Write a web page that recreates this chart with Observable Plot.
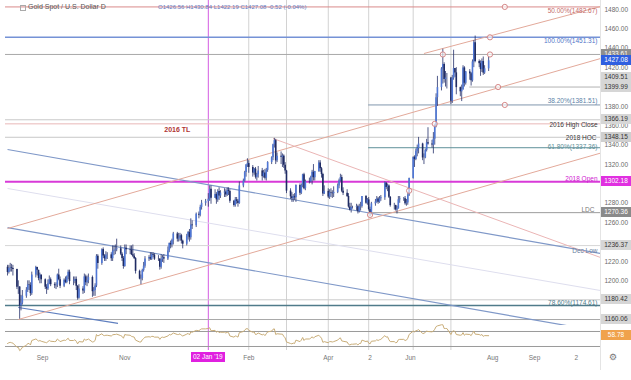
<!DOCTYPE html>
<html><head><meta charset="utf-8">
<script src="https://cdn.jsdelivr.net/npm/d3@7"></script>
<script src="https://cdn.jsdelivr.net/npm/@observablehq/plot@0.6"></script>
<style>
html,body{margin:0;padding:0;background:#fff;}
#wrap{position:relative;width:631px;height:380px;overflow:hidden;font-family:"Liberation Sans",Arial,sans-serif;}
#wrap svg{position:absolute;left:0;}
.tag{position:absolute;left:601px;width:30px;height:10px;line-height:10px;font-size:6.5px;text-align:center;}
.abs{position:absolute;white-space:nowrap;}
</style></head>
<body><div id="wrap"></div>
<script>
// ---------------- data ----------------
const title = "Gold Spot / U.S. Dollar  D";
const ohlcText = "O1426.56 H1430.84 L1422.19 C1427.08 -0.52 (-0.04%)";
const firstDay = "2018-08-06", lastDay = "2019-07-29";
const holidays = ["2018-12-25", "2019-01-01"];
const firstOpen = 1214.0;
const closes = [
1208.6,1212.8,1213.5,1212.8,1211.6, 1193.5,1193.6,1174.1,1176.9,1184.1, 1190.4,1195.8,1195.3,1186.8,1206.0, 1213.8,1210.8,1202.3,1205.9,1201.1,
1193.4,1191.6,1197.1,1201.1,1196.0, 1194.9,1195.5,1206.0,1201.1,1194.3, 1200.6,1198.3,1203.9,1208.9,1199.2, 1199.6,1201.5,1194.4,1182.0,1191.6,
1189.4,1204.1,1198.0,1200.2,1203.4, 1188.8,1189.9,1194.7,1225.3,1218.0, 1232.2,1225.6,1222.6,1226.7,1226.8, 1222.8,1230.5,1231.6,1232.1,1233.1,
1227.5,1223.1,1214.8,1233.6,1232.2, 1231.5,1226.8,1225.4,1222.9,1209.8, 1201.8,1202.4,1210.8,1215.1,1222.5, 1224.0,1222.3,1227.2,1226.5,1222.3,
1222.2,1213.9,1221.8,1223.8,1222.5, 1230.8,1238.6,1237.0,1241.5,1248.4, 1243.0,1244.0,1246.6,1241.0,1237.8, 1246.0,1249.8,1244.5,1257.7,1256.9,
1268.6,1267.6,1275.8,1280.0, 1281.7,1284.2,1294.5,1285.2,
1289.2,1283.6,1292.1,1287.5,1290.6, 1291.6,1288.6,1293.5,1292.2,1282.0, 1277.8,1283.6,1282.0,1279.7,1297.9, 1302.9,1311.8,1319.5,1321.0,1317.0,
1311.2,1315.3,1306.9,1309.4,1313.4, 1307.5,1311.2,1305.8,1314.0,1322.1, 1327.0,1340.4,1344.7,1323.8,1328.5, 1327.5,1328.7,1319.3,1313.3,1292.6,
1286.7,1284.6,1286.8,1285.7,1298.3, 1290.4,1298.1,1309.4,1295.1,1302.3, 1302.0,1306.6,1312.0,1306.4,1312.8, 1321.6,1315.6,1309.7,1289.6,1292.3,
1286.5,1290.8,1290.5,1289.9,1291.3, 1297.9,1303.2,1306.6,1292.5,1290.4, 1287.0,1276.2,1272.9,1275.6,1275.7, 1276.5,1271.3,1276.2,1276.8,1286.9,
1280.1,1283.5,1273.6,1270.6,1279.4, 1281.3,1284.4,1281.0,1284.6,1285.8, 1300.9,1296.3,1297.8,1286.2,1277.6, 1277.7,1273.2,1274.3,1283.6,1284.6,
1284.8,1279.6,1280.4,1288.2,1305.6, 1327.4,1325.1,1333.6,1336.6,1341.2, 1326.8,1326.8,1334.6,1342.4,1341.2, 1340.1,1346.2,1360.3,1389.0,1399.4,
1418.6,1423.2,1407.8,1409.3,1409.2, 1385.2,1409.0,1419.0,1414.6,1399.4, 1395.1,1397.0,1419.7,1403.9,1415.6, 1413.6,1406.4,1425.9,1445.6,1426.4,
1424.1,1418.0,1426.3,1414.4,1418.8, 1427.1];
const highs = [
1216,1216,1218,1217,1216, 1212,1200,1194,1185,1190, 1193,1200,1200,1198,1209, 1215,1214,1211,1208,1206,
1202,1196,1201,1205,1203, 1198,1198,1207,1212,1204, 1202,1204,1205,1211,1211, 1204,1204,1204,1195,1196,
1194,1207,1206,1205,1207, 1205,1193,1197,1227,1227, 1233,1234,1227,1230,1229, 1229,1236,1236,1237,1243,
1236,1229,1225,1237,1237, 1236,1236,1237,1228,1224, 1211,1206,1212,1219,1225, 1226,1229,1229,1229,1228,
1226,1223,1227,1226,1227, 1235,1239,1241,1243,1250, 1250,1249,1249,1248,1242, 1248,1251,1253,1264,1262,
1270,1271,1278,1283, 1284,1290,1298,1298,
1294,1291,1294,1296,1293, 1295,1294,1296,1296,1294, 1283,1286,1286,1284,1302, 1305,1313,1320,1326,1324,
1319,1316,1317,1311,1318, 1316,1314,1315,1316,1323, 1328,1341,1347,1346,1332, 1333,1331,1330,1322,1314,
1295,1291,1289,1290,1299, 1300,1300,1310,1311,1304, 1306,1308,1314,1320,1313, 1324,1324,1317,1311,1298,
1295,1294,1295,1293,1297, 1300,1305,1310,1309,1296, 1294,1290,1280,1280,1277, 1279,1278,1279,1281,1287,
1288,1285,1286,1276,1281, 1284,1287,1286,1287,1288, 1302,1301,1300,1299,1287, 1280,1278,1277,1287,1287,
1286,1287,1284,1290,1306, 1328,1329,1336,1340,1348, 1342,1331,1336,1346,1358, 1345,1353,1361,1393,1411,
1420,1439,1425,1416,1414, 1410,1412,1438,1419,1420, 1400,1402,1422,1421,1416, 1418,1415,1428,1448,1452.6,
1428,1427,1429,1431,1422, 1430.8];
const lows = [
1205,1207,1209,1209,1205, 1191,1186,1160.4,1169,1175, 1182,1188,1190,1184,1185, 1203,1205,1200,1197,1197,
1191,1186,1190,1196,1194, 1192,1191,1193,1200,1192, 1193,1197,1197,1201,1196, 1195,1197,1190,1180,1181,
1186,1187,1195,1194,1197, 1183,1184,1184,1193,1212, 1216,1223,1220,1220,1222, 1220,1220,1226,1227,1230,
1226,1220,1212,1214,1227, 1227,1226,1224,1222,1207, 1201,1196,1200,1209,1213, 1220,1221,1221,1224,1221,
1220,1211,1212,1219,1218, 1221,1229,1233,1234,1237, 1240,1240,1241,1238,1233, 1236,1242,1240,1242,1253,
1255,1264,1266,1273, 1277,1276,1282,1279,
1285,1279,1281,1283,1285, 1286,1286,1287,1288,1280, 1276,1276,1279,1276,1279, 1296,1302,1307,1317,1311,
1307,1309,1305,1303,1306, 1303,1306,1304,1303,1312, 1320,1324,1337,1320,1322, 1320,1317,1316,1310,1290,
1284,1281,1281,1283,1281, 1288,1289,1296,1294,1293, 1300,1301,1299,1303,1303, 1312,1312,1306,1287,1289,
1285,1284,1286,1285,1286, 1290,1295,1302,1291,1288, 1286,1275,1272,1270,1274, 1272,1269,1270,1272,1275,
1279,1278,1272,1266.2,1268, 1277,1280,1279,1280,1282, 1283,1294,1292,1285,1276, 1273,1272,1269,1274,1280,
1282,1278,1277,1278,1287, 1305,1317,1324,1328,1331, 1324,1320,1326,1333,1340, 1337,1331,1340,1358,1380,
1396,1403,1404,1400,1398, 1381.9,1383,1407,1410,1392, 1390,1385,1397,1400,1402, 1407,1401,1405,1420,1425,
1420,1411,1415,1412,1413, 1416];
const rsiValues = [
38,40,41,40,39, 28,28,19,22,28, 33,38,38,34,46, 50,48,44,46,44,
41,40,43,46,44, 43,44,50,47,43, 47,46,49,52,46, 46,48,44,37,43,
42,50,47,48,50, 42,43,46,62,58, 64,60,59,60,60, 58,61,62,62,63,
59,57,52,62,61, 60,57,56,55,47, 42,42,48,51,55, 56,55,57,57,55,
55,49,54,55,54, 58,62,61,63,66, 62,62,64,60,58, 63,65,61,69,68,
73,72,75,77, 77,78,80,72,
73,68,71,67,68, 68,66,68,67,58, 55,58,57,55,67, 70,74,77,78,73,
68,69,62,63,66, 61,63,59,64,69, 71,76,77,62,64, 63,63,57,53,42,
38,37,39,38,47, 43,47,54,46,50, 50,52,56,52,56, 60,56,52,41,43,
40,43,43,42,43, 47,51,53,45,44, 42,36,34,36,36, 37,34,38,38,47,
43,45,39,37,44, 45,48,46,48,49, 59,55,56,48,43, 43,40,41,48,49,
49,46,47,52,62, 71,69,72,73,75, 65,65,68,71,70, 69,71,76,83,85,
88,88,78,78,78, 62,70,72,70,62, 60,61,67,60,63, 62,59,65,71,63,
62,60,62,57,59, 58.78];
const rsiLevels = [70, 30];
const rsiLast = 58.78;

const levelValues = [1482.67, 1451.31, 1433.61, 1399.99, 1381.51, 1366.19, 1362.00, 1348.15, 1337.36, 1302.18, 1270.36, 1236.37, 1180.42, 1174.61, 1160.06];
const levelFrom   = [null, null, null, "2019-07-15", "2019-05-01", null, null, null, "2019-05-01", null, "2019-05-01", null, null, null, null];
const labelValues = [1482.67, 1451.31, 1381.51, 1366.19, 1348.15, 1337.36, 1302.18, 1270.36, 1236.37, 1174.61];
const labelTexts  = ["50.00%(1482.67)", "100.00%(1451.31)", "38.20%(1381.51)", "2016 High Close", "2018 HOC", "61.80%(1337.36)", "2018 Open", "LDC", "Dec Low", "78.60%(1174.61)"];
const noteDates = ["2018-12-10"], noteValues = [1356], noteTexts = ["2016 TL"];

const trendFromDates = ["2018-08-06", "2018-08-06", "2018-08-06", "2018-08-14", "2018-08-14", "2018-08-06", "2019-06-11", "2019-02-19"];
const trendFromValues = [1335.5, 1255.0, 1295.3, 1172.5, 1160.06, 1254.0, 1434.6, 1346.9];
const trendToDates = ["2019-10-20", "2019-10-20", "2019-10-20", "2018-10-27", "2019-10-20", "2019-10-20", "2019-10-20", "2019-10-20"];
const trendToValues = [1228.2, 1147.7, 1190.0, 1156.0, 1331.8, 1429.4, 1483.1, 1224.1];

const pivotDates = ["2019-05-02", "2019-05-31", "2019-06-19", "2019-06-25", "2019-07-30", "2019-07-30", "2019-08-05", "2019-08-10", "2019-08-10"];
const pivotValues = [1268, 1293, 1362, 1433.61, 1451.31, 1433.61, 1399.99, 1381.51, 1482.67];

const monthLineDates = ["2019-02-01", "2019-03-01", "2019-04-01", "2019-05-01", "2019-06-03", "2019-07-01"];
const cursorDate = "2019-01-02", cursorLabel = "02 Jan '19";
const tickDates = ["2018-09-01", "2018-11-01", "2019-02-01", "2019-04-01", "2019-05-02", "2019-06-01", "2019-08-01", "2019-09-01", "2019-10-02"];
const tickLabels = ["Sep", "Nov", "Feb", "Apr", "2", "Jun", "Aug", "Sep", "2"];
const yTicks = [1160, 1180, 1200, 1220, 1240, 1260, 1280, 1300, 1320, 1340, 1360, 1380, 1400, 1420, 1440, 1460, 1480];
const tagValues = [1433.61, 1409.51, 1399.99, 1366.19, 1348.15, 1302.18, 1270.36, 1236.37, 1180.42, 1160.06, 1427.08];

// ---------------- styles (kept apart from data) ----------------
const levelStroke = ["#d98a8a","#7592d6","#a9a9a9","#b3b3b3","#8097ad","#c8c8c8","#e9b8b8","#c8c8c8","#5e9099","#d83ad8","#9c9c9c","#d6d6d6","#cacaca","#4f7b8a","#a8a8a8"];
const levelWidth  = [1,1.5,1,1,1,1,1,1,1,2,1,1,1,1.5,1];
const labelFill = ["#c46a6a","#4f74c8","#5a7fa8","#3a3a3a","#3a3a3a","#5e9099","#d020d0","#7a7a7a","#6a7fa0","#4f7b8a"];
const labelDy   = [4,4,-4,5,1,-1,-3,-3,5,-3];
const labelDx   = [-3,-3,-3,-3,-4,-3,-3,-6,-3,-3];
const trendStroke = ["#7f98c8","#7f98c8","#dedeee","#5f7fbf","#e3a99a","#e3a99a","#e3a99a","#ebb5b5"];
const trendWidth  = [1.2,1.2,1,1.2,1,1,1,1];
const tagBg = ["#8e8e8e","#d6d6d6","#d6d6d6","#d6d6d6","#cfcfcf","#e030e0","#8a8a8a","#d6d6d6","#d6d6d6","#d6d6d6","#2f5fe0"];
const tagFg = ["#fff","#333","#333","#333","#333","#fff","#fff","#333","#333","#333","#fff"];

// ---------------- build ----------------
const D = s => new Date(s + "T00:00:00Z");
const xDomain = [new Date("2018-08-04T12:00:00Z"), new Date("2019-10-20T00:00:00Z")];
const yDomain = [1153.9, 1489.3];
const pxPerUnit = 325 / (yDomain[1] - yDomain[0]);
const days = d3.utcDays(D(firstDay), d3.utcDay.offset(D(lastDay), 1))
  .filter(d => d.getUTCDay() % 6 !== 0 && !holidays.includes(d.toISOString().slice(0, 10)));
const n = Math.min(days.length, closes.length, highs.length, lows.length);
const candles = d3.range(n).map(i => ({date: days[i], open: i ? closes[i - 1] : firstOpen, close: closes[i], high: highs[i], low: lows[i]}));
const rsiRows = d3.range(Math.min(days.length, rsiValues.length)).map(i => ({date: days[i], rsi: rsiValues[i]}));
const levels = levelValues.map((v, i) => ({value: v, from: levelFrom[i] ? D(levelFrom[i]) : xDomain[0], to: xDomain[1], i}));
const labels = labelValues.map((v, i) => ({value: v, text: labelTexts[i], i}));
const trends = trendFromDates.map((d, i) => ({a: D(d), pa: trendFromValues[i], b: D(trendToDates[i]), pb: trendToValues[i], stroke: trendStroke[i], w: trendWidth[i]}));
const pivots = pivotDates.map((d, i) => ({date: D(d), value: pivotValues[i]}));
const notes = noteDates.map((d, i) => ({date: D(d), value: noteValues[i], text: noteTexts[i]}));
const monthLines = monthLineDates.map(D);
const cursor = D(cursorDate);
const labelMap = new Map(tickDates.map((d, i) => [+D(d), tickLabels[i]]));
// axis labels hidden behind a price tag (as on the reference) are not drawn
const shownTicks = yTicks.filter(t => !tagValues.some(v => Math.abs(v - t) * pxPerUnit < 5.5));

const baseStyle = {fontFamily: "Liberation Sans, Arial, sans-serif", fontSize: "6.5px", background: "transparent", overflow: "visible"};

const main = Plot.plot({
  width: 631, height: 325, marginLeft: 5, marginRight: 31, marginTop: 0, marginBottom: 0,
  style: baseStyle,
  x: {type: "utc", domain: xDomain, axis: null, label: null},
  y: {domain: yDomain, label: null},
  marks: [
    Plot.ruleX(monthLines, {x: d => d, stroke: "#d2d2d2", strokeWidth: 1}),
    Plot.ruleX([cursor], {x: d => d, stroke: "#d45ce2", strokeWidth: 1}),
    ...levels.map(l => Plot.ruleY([l], {y: "value", x1: "from", x2: "to", stroke: levelStroke[l.i], strokeWidth: levelWidth[l.i]})),
    ...trends.map(t => Plot.link([t], {x1: "a", y1: "pa", x2: "b", y2: "pb", stroke: t.stroke, strokeWidth: t.w, clip: true})),
    Plot.ruleX(candles, {x: "date", y1: "low", y2: "high", stroke: "#24306a", strokeWidth: 0.8}),
    Plot.ruleX(candles, {x: "date", y1: "open", y2: "close", stroke: d => d.close >= d.open ? "#4f77d6" : "#1f2b63", strokeWidth: 1.6}),
    Plot.dot(pivots, {x: "date", y: "value", r: 2.6, stroke: "#d58888", fill: "#ffffff", fillOpacity: 0.6, strokeWidth: 1}),
    ...labels.map(l => Plot.text([l], {y: "value", text: "text", frameAnchor: "right", textAnchor: "end", dx: labelDx[l.i], dy: labelDy[l.i], fill: labelFill[l.i], fontSize: 6.5})),
    Plot.text(notes, {x: "date", y: "value", text: "text", fill: "#b03535", fontSize: 7, fontWeight: "bold"}),
    Plot.axisY({anchor: "right", ticks: shownTicks, tickSize: 0, tickPadding: 4, tickFormat: d => d.toFixed(2), color: "#6a6a6a", fontSize: 6.5, label: null})
  ]
});

const rsiChart = Plot.plot({
  width: 631, height: 45, marginLeft: 5, marginRight: 31, marginTop: 0, marginBottom: 20,
  style: baseStyle,
  x: {type: "utc", domain: xDomain, label: null},
  y: {domain: [19.33, 86], axis: null, label: null},
  marks: [
    Plot.ruleX(monthLines, {x: d => d, stroke: "#d2d2d2", strokeWidth: 1}),
    Plot.ruleX([cursor], {x: d => d, stroke: "#d45ce2", strokeWidth: 1}),
    Plot.ruleY(rsiLevels, {y: d => d, stroke: "#9a9a9a", strokeWidth: 1}),
    Plot.line(rsiRows, {x: "date", y: "rsi", stroke: "#c9ad78", strokeWidth: 1}),
    Plot.axisX({ticks: tickDates.map(D), tickFormat: d => labelMap.get(+d), tickSize: 0, tickPadding: 5, color: "#777", fontSize: 6.5, label: null})
  ]
});

const wrap = document.getElementById("wrap");
main.style.top = "0px";
rsiChart.style.top = "325px";
wrap.append(main, rsiChart);

const ys = main.scale("y"), xs = main.scale("x"), ry = rsiChart.scale("y");
function addDiv(cls, css, text) {
  const el = document.createElement("div");
  el.className = cls;
  Object.assign(el.style, css);
  el.textContent = text;
  wrap.append(el);
  return el;
}
// right-axis divider
addDiv("abs", {left: "600px", top: "0px", width: "1px", height: "370px", background: "#e4e4e4"}, "");
// price tags
tagValues.forEach((v, i) => addDiv("tag", {top: (ys.apply(v) - 5) + "px", background: tagBg[i], color: tagFg[i]}, v.toFixed(2)));
// RSI tag
addDiv("tag", {top: (325 + ry.apply(rsiLast) - 5) + "px", background: "#f0a24c", color: "#fff"}, rsiLast.toFixed(2));
// cursor date label
addDiv("abs", {left: (xs.apply(cursor) - 17) + "px", top: "352px", width: "34px", height: "10px", lineHeight: "10px", fontSize: "6.5px", textAlign: "center", background: "#e020e0", color: "#fff"}, cursorLabel);
// header
addDiv("abs", {left: "20px", top: "5px", width: "4px", height: "4px", border: "1px solid #aaa"}, "");
addDiv("abs", {left: "28px", top: "3px", fontSize: "7px", color: "#555"}, title);
addDiv("abs", {left: "158px", top: "4px", fontSize: "6px", color: "#6079c2"}, ohlcText);
// settings gear
addDiv("abs", {left: "609px", top: "352px", fontSize: "9px", color: "#777", fontFamily: "DejaVu Sans"}, "\u2699");
</script></body></html>
